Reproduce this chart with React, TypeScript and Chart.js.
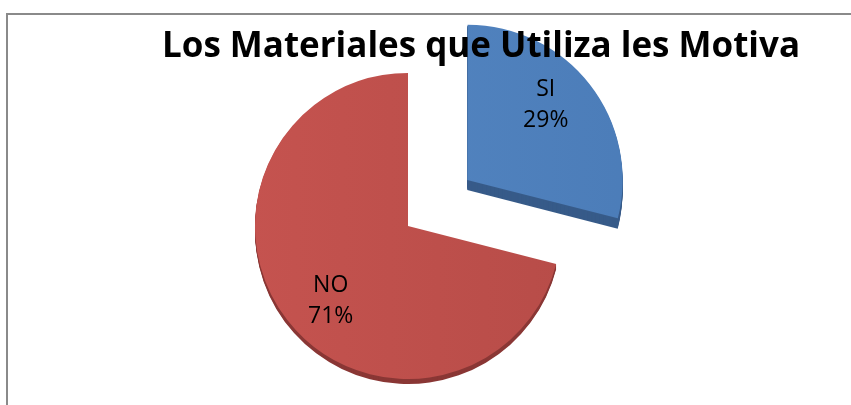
import { useEffect, useRef } from "react";
import { Chart, registerables } from "chart.js";

Chart.register(...registerables);

const TITLE = "Los Materiales que Utiliza les Motiva";
const categories = ["SI", "NO"];
const values = [29, 71];
const percentLabels = ["29%", "71%"];

const faceLight = ["#5486C2", "#C5534F"];
const faceDark = ["#4A7BB7", "#B54B47"];
const sideColors = ["#375B89", "#8A3735"];
const sideDepth = [10, 5];
const explode = [300, 0];

const borderPlugin = {
  id: "frameBorder",
  beforeDraw(chart: any) {
    const ctx = chart.ctx;
    ctx.save();
    ctx.strokeStyle = "#8a8a8a";
    ctx.lineWidth = 2;
    ctx.beginPath();
    ctx.moveTo(7, chart.height);
    ctx.lineTo(7, 14);
    ctx.lineTo(chart.width, 14);
    ctx.stroke();
    ctx.restore();
  },
};

function arcGeom(arc: any) {
  const p = arc.getProps(["x", "y", "startAngle", "endAngle", "outerRadius", "circumference"], true);
  const off = (arc.options.offset || 0) / 4;
  const mid = (p.startAngle + p.endAngle) / 2;
  const tx = Math.cos(mid) * off;
  const ty = Math.sin(mid) * off;
  const fix = 1 - Math.sin(Math.min(Math.PI, p.circumference || 0));
  const r = p.outerRadius + off * fix;
  return { cx: p.x + tx, cy: p.y + ty, r, s: p.startAngle, e: p.endAngle, mid };
}

const depthPlugin = {
  id: "depth3d",
  beforeDatasetsDraw(chart: any) {
    const meta = chart.getDatasetMeta(0);
    const ctx = chart.ctx;
    ctx.save();
    meta.data.forEach((arc: any, i: number) => {
      const g = arcGeom(arc);
      ctx.fillStyle = sideColors[i];
      for (let k = sideDepth[i]; k >= 1; k--) {
        ctx.beginPath();
        ctx.moveTo(g.cx, g.cy + k);
        ctx.arc(g.cx, g.cy + k, g.r, g.s, g.e);
        ctx.closePath();
        ctx.fill();
      }
    });
    ctx.restore();
  },
};

const labelPlugin = {
  id: "sliceLabels",
  afterDatasetsDraw(chart: any) {
    const meta = chart.getDatasetMeta(0);
    const ctx = chart.ctx;
    ctx.save();
    ctx.font = "23px 'Open Sans'";
    ctx.fillStyle = "#000000";
    ctx.textAlign = "center";
    ctx.textBaseline = "middle";
    meta.data.forEach((arc: any, i: number) => {
      const g = arcGeom(arc);
      const d = g.r * 0.7;
      const a = g.mid - 0.105;
      const lx = g.cx + Math.cos(a) * d;
      const ly = g.cy + Math.sin(a) * d;
      ctx.fillText(categories[i], lx, ly - 15);
      ctx.fillText(percentLabels[i], lx, ly + 16);
    });
    ctx.restore();
  },
};

const titlePlugin = {
  id: "overTitle",
  afterDatasetsDraw(chart: any) {
    const ctx = chart.ctx;
    ctx.save();
    ctx.font = "bold 35px 'Open Sans'";
    ctx.fillStyle = "#000000";
    ctx.textAlign = "center";
    ctx.textBaseline = "alphabetic";
    ctx.fillText(TITLE, 481, 57, 638);
    ctx.restore();
  },
};

export default function App() {
  const ref = useRef<HTMLCanvasElement | null>(null);

  useEffect(() => {
    if (!ref.current) return;
    const chart = new Chart(ref.current, {
      type: "pie",
      data: {
        labels: categories,
        datasets: [
          {
            data: values,
            backgroundColor: (c: any) => {
              const i = c.dataIndex ?? 0;
              const area = c.chart.chartArea;
              if (!area) return faceLight[i];
              const cx = (area.left + area.right) / 2;
              const gr = c.chart.ctx.createLinearGradient(cx - 160, 0, cx + 220, 0);
              gr.addColorStop(0, faceLight[i]);
              gr.addColorStop(1, faceDark[i]);
              return gr;
            },
            borderWidth: 0,
            offset: explode,
          },
        ],
      },
      options: {
        responsive: false,
        animation: false,
        radius: 153,
        layout: { padding: { left: 0, right: 35, top: 47, bottom: 0 } },
        plugins: {
          legend: { display: false },
          title: { display: false },
          tooltip: { enabled: false },
        },
        events: [],
      } as any,
      plugins: [borderPlugin, depthPlugin, labelPlugin, titlePlugin],
    });
    return () => chart.destroy();
  }, []);

  return (
    <div style={{ position: "fixed", left: 0, top: 0, width: 851, height: 405, background: "#fff" }}>
      <canvas ref={ref} width={851} height={405} style={{ display: "block" }} />
    </div>
  );
}
